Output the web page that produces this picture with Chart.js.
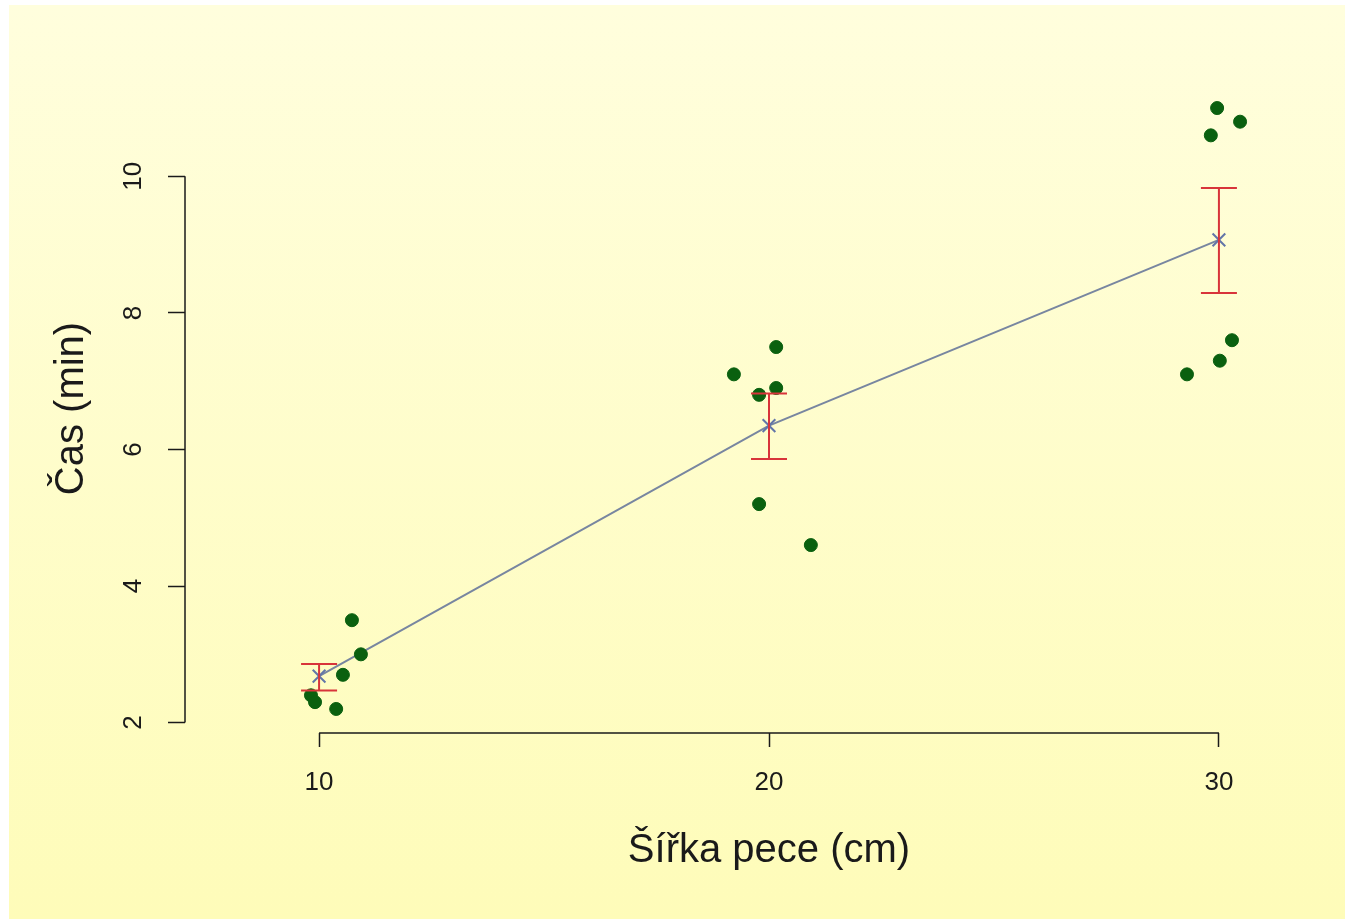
<!DOCTYPE html>
<html>
<head>
<meta charset="utf-8">
<script src="https://cdn.jsdelivr.net/npm/chart.js@4.4.1/dist/chart.umd.min.js"></script>
<style>
  html, body { margin: 0; padding: 0; background: #fff; overflow: hidden; }
  #wrap { width: 1345px; height: 919px; overflow: hidden; }
</style>
</head>
<body>
<div id="wrap"><canvas id="myChart" width="1370" height="919"></canvas></div>
<script>
// raw observations (x jittered around 10 / 20 / 30)
const pointX = [10.73, 10.93, 10.53, 9.82, 9.91, 10.38,
                19.22, 20.16, 19.78, 20.16, 19.78, 20.93,
                29.96, 29.82, 30.47, 30.29, 30.02, 29.29];
const pointY = [3.5, 3.0, 2.7, 2.4, 2.3, 2.2,
                7.1, 7.5, 6.8, 6.9, 5.2, 4.6,
                11.0, 10.6, 10.8, 7.6, 7.3, 7.1];

// group means and error bar ends
const groups = [10, 20, 30];
const means = [2.68, 6.35, 9.07];
const errLow = [2.47, 5.86, 8.29];
const errHigh = [2.86, 6.82, 9.83];

const xTicks = [10, 20, 30];
const yTicks = [2, 4, 6, 8, 10];

const font = "'Liberation Sans', Arial, sans-serif";

const deco = {
  id: "deco",
  beforeDraw(chart) {
    const ctx = chart.ctx;
    const g = ctx.createLinearGradient(0, 5, 0, 919);
    g.addColorStop(0, "#fffedd");
    g.addColorStop(1, "#fefcb9");
    ctx.save();
    ctx.fillStyle = g;
    ctx.fillRect(9, 5, 1361, 914);
    ctx.restore();
  },
  afterDraw(chart) {
    const ctx = chart.ctx;
    const xs = chart.scales.x, ys = chart.scales.y;
    ctx.save();
    ctx.strokeStyle = "#1a1a1a";
    ctx.lineWidth = 1.5;
    // R style axis lines, only across the tick range
    ctx.beginPath();
    ctx.moveTo(xs.getPixelForValue(xTicks[0]), xs.top);
    ctx.lineTo(xs.getPixelForValue(xTicks[xTicks.length - 1]), xs.top);
    ctx.moveTo(ys.right, ys.getPixelForValue(yTicks[0]));
    ctx.lineTo(ys.right, ys.getPixelForValue(yTicks[yTicks.length - 1]));
    ctx.stroke();
    // error bars
    ctx.strokeStyle = "#d8343a";
    ctx.lineWidth = 2;
    groups.forEach((gx, i) => {
      const px = xs.getPixelForValue(gx);
      const lo = ys.getPixelForValue(errLow[i]);
      const hi = ys.getPixelForValue(errHigh[i]);
      ctx.beginPath();
      ctx.moveTo(px, lo); ctx.lineTo(px, hi);
      ctx.moveTo(px - 18, lo); ctx.lineTo(px + 18, lo);
      ctx.moveTo(px - 18, hi); ctx.lineTo(px + 18, hi);
      ctx.stroke();
    });
    ctx.restore();
  }
};

new Chart("myChart", {
  type: "scatter",
  data: {
    datasets: [{
      data: pointX.map((x, i) => ({ x: x, y: pointY[i] })),
      backgroundColor: "#0a600f",
      borderColor: "#0a600f",
      pointRadius: 6.5,
      order: 1
    }, {
      data: groups.map((x, i) => ({ x: x, y: means[i] })),
      showLine: true,
      borderColor: "#7886a0",
      borderWidth: 2,
      pointStyle: "crossRot",
      pointRadius: 9,
      pointBorderColor: "#6275a8",
      pointBorderWidth: 2,
      order: 2
    }]
  },
  plugins: [deco],
  options: {
    responsive: false,
    animation: false,
    layout: { padding: { left: 0, top: 84, right: 17, bottom: 0 } },
    plugins: { legend: { display: false }, tooltip: { enabled: false } },
    scales: {
      x: {
        type: "linear",
        min: 7.02,
        max: 32.98,
        afterBuildTicks(scale) { scale.ticks = xTicks.map(v => ({ value: v })); },
        afterFit(scale) { scale.height = 186; },
        border: { display: false },
        grid: { drawOnChartArea: false, tickLength: 14, tickColor: "#1a1a1a", tickWidth: 1.5 },
        ticks: { font: { family: font, size: 26 }, color: "#1a1a1a", padding: 20, maxRotation: 0 },
        title: { display: true, text: "Šířka pece (cm)", font: { family: font, size: 40 }, color: "#1a1a1a", padding: { top: 0, bottom: 44 } }
      },
      y: {
        type: "linear",
        min: 1.848,
        max: 11.352,
        afterBuildTicks(scale) { scale.ticks = yTicks.map(v => ({ value: v })); },
        afterFit(scale) { scale.width = 185; },
        border: { display: false },
        grid: { drawOnChartArea: false, tickLength: 17, tickColor: "#1a1a1a", tickWidth: 1.5 },
        ticks: { font: { family: font, size: 26 }, color: "#1a1a1a", padding: 20, minRotation: 90, maxRotation: 90, crossAlign: "center" },
        title: { display: true, text: "Čas (min)", font: { family: font, size: 40 }, color: "#1a1a1a", padding: { top: 48, bottom: 0 } }
      }
    }
  }
});
</script>
</body>
</html>
